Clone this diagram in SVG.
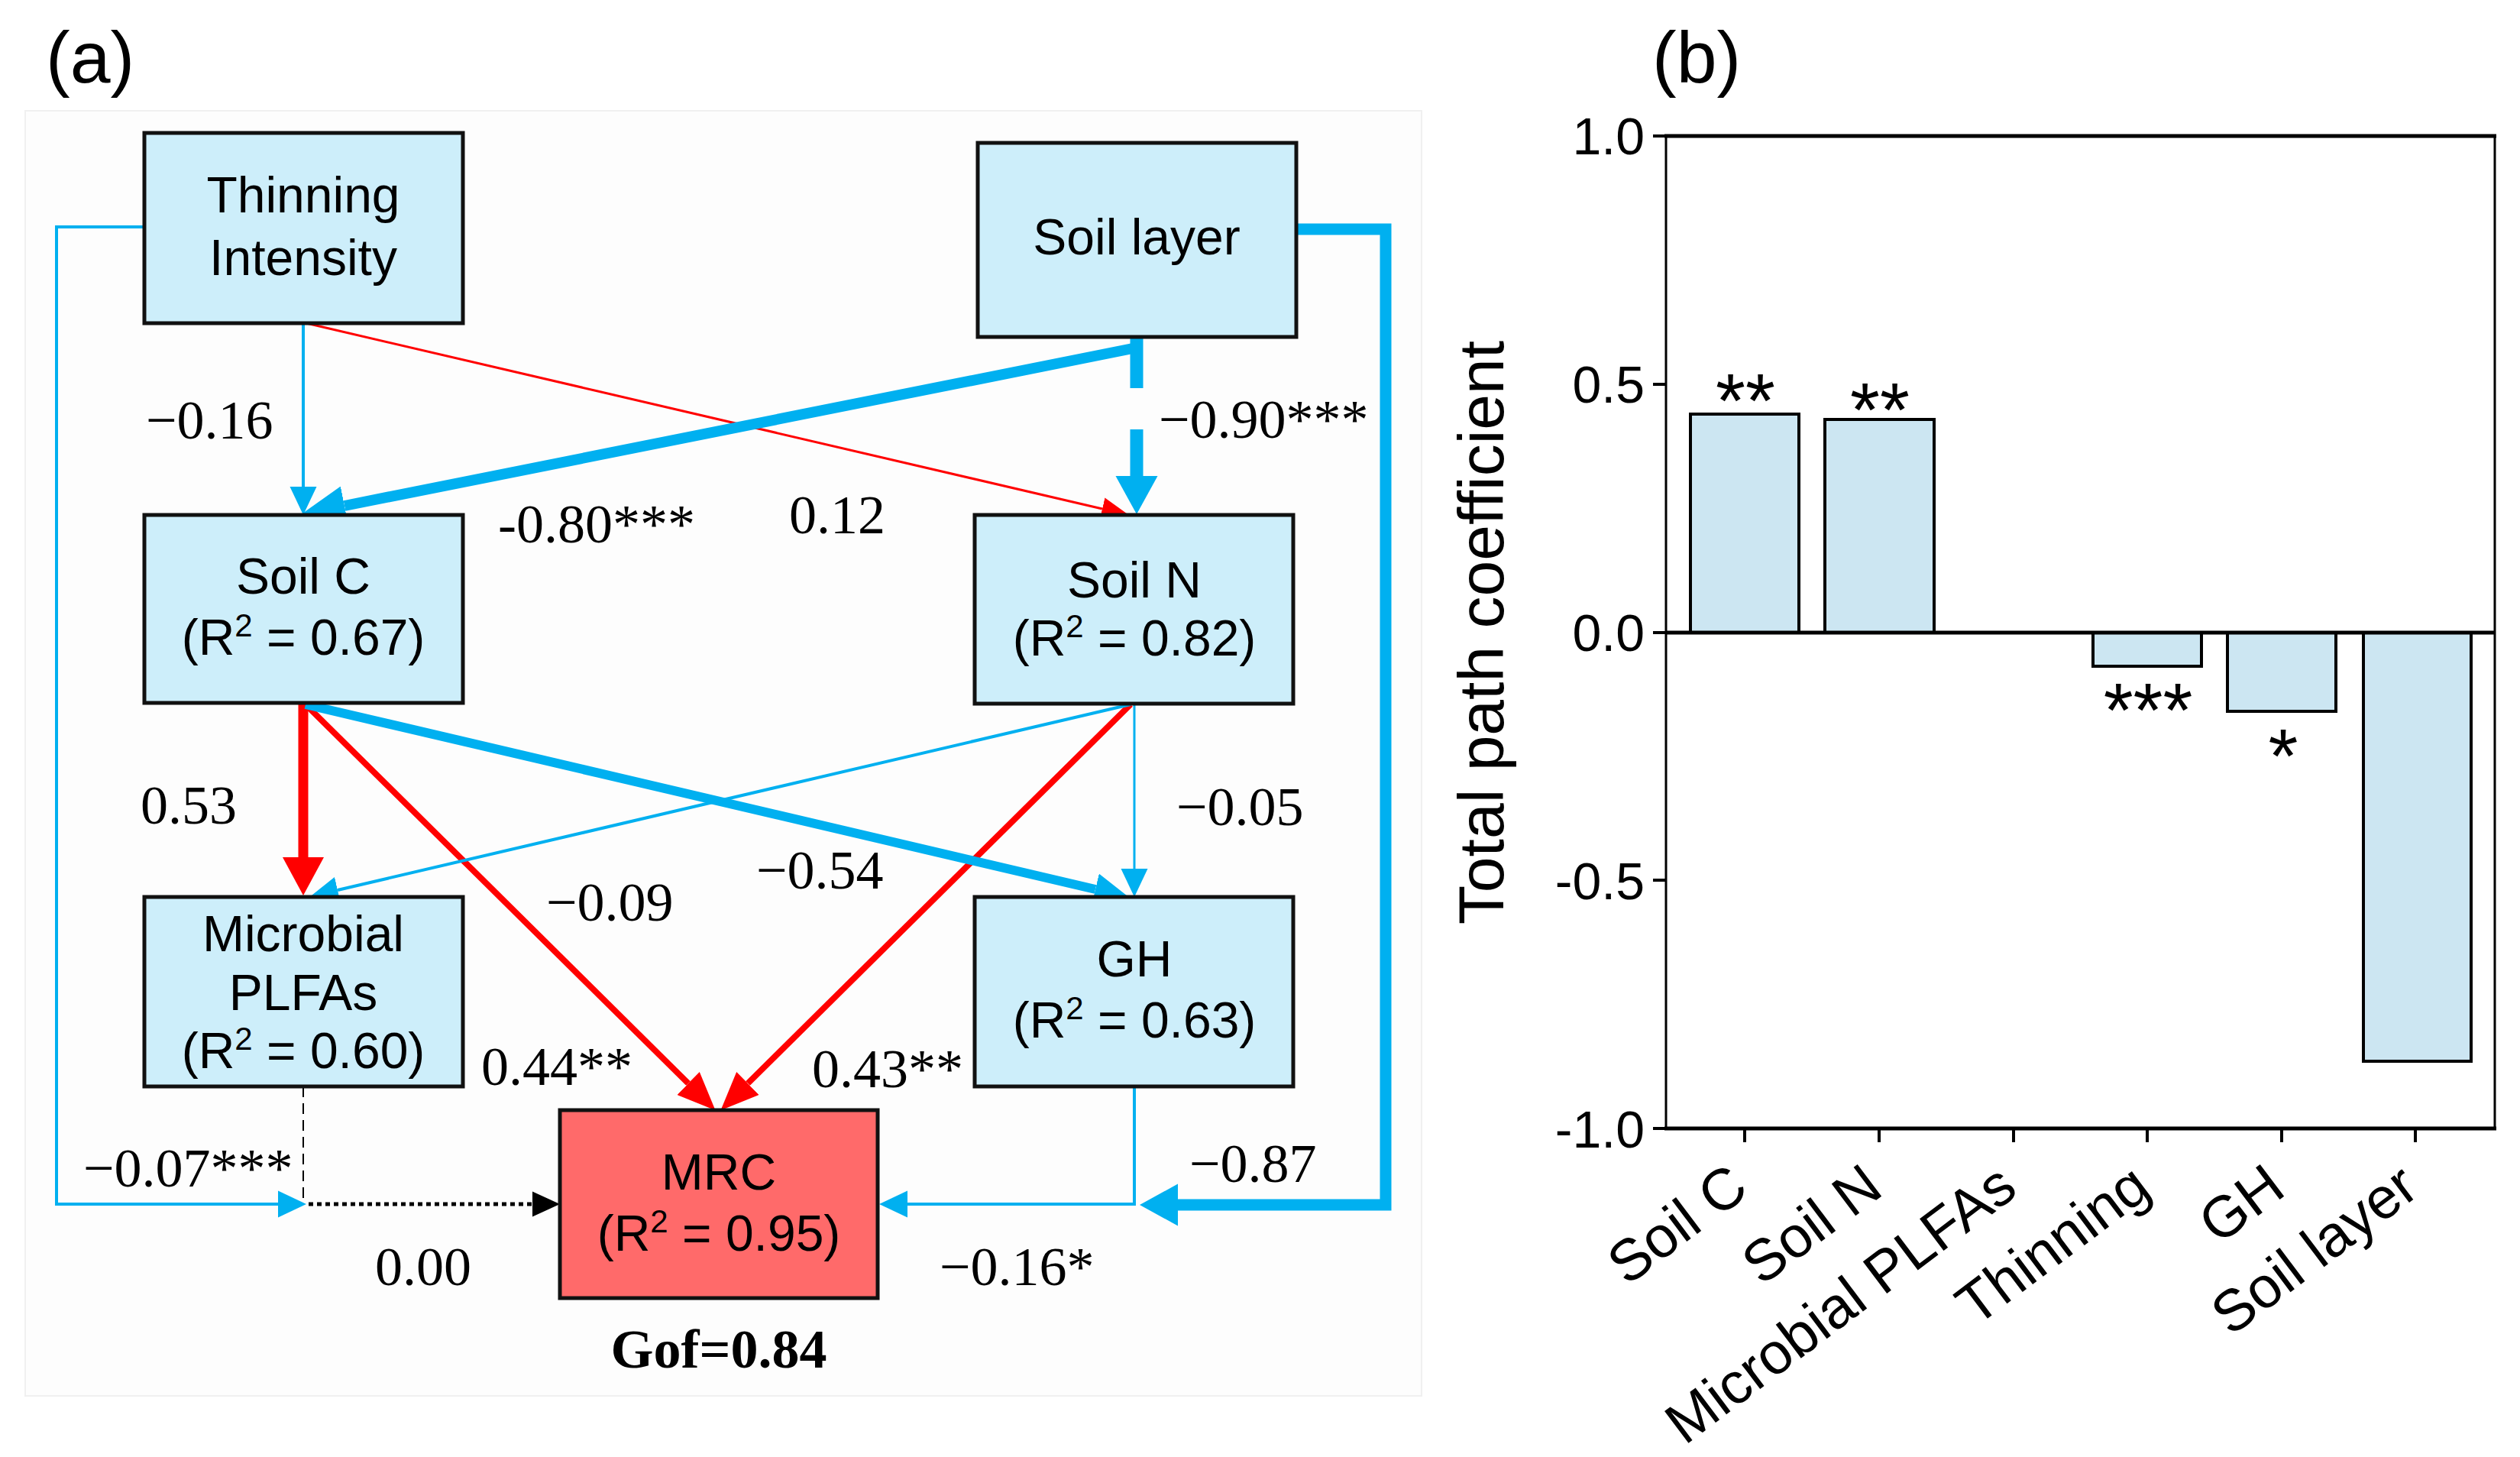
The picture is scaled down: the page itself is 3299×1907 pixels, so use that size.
<svg xmlns="http://www.w3.org/2000/svg" width="3299" height="1907" viewBox="0 0 3299 1907">
<style>
.box{fill:#cdeefa;stroke:#111;stroke-width:5}
.mrc{fill:#ff6a6a;stroke:#111;stroke-width:5}
.bt{font-family:"Liberation Sans",Arial,sans-serif;font-size:66px;fill:#000;text-anchor:middle}
.lb{font-family:"Liberation Serif","Times New Roman",serif;font-size:72px;fill:#000}
.pl{font-family:"Liberation Sans",Arial,sans-serif;font-size:95px;fill:#000}
.tk{font-family:"Liberation Sans",Arial,sans-serif;font-size:68px;fill:#000;text-anchor:end}
.xl{font-family:"Liberation Sans",Arial,sans-serif;font-size:76px;fill:#000;text-anchor:end}
.st{font-family:"Liberation Sans",Arial,sans-serif;font-size:100px;fill:#000;text-anchor:middle}
.b{fill:none;stroke:#00b0f0}
.r{fill:none;stroke:#ff0000}
.bar{fill:#cce6f2;stroke:#000;stroke-width:4}
.ax{stroke:#000;fill:none}
</style>
<defs>
<marker id="mBlueS" markerUnits="userSpaceOnUse" orient="auto" viewBox="0 -18 37 36" refX="0" refY="0" markerWidth="37" markerHeight="36"><path d="M0,-17.5 L37,0 L0,17.5 z" fill="#00b0f0"/></marker>
<marker id="mBlueM" markerUnits="userSpaceOnUse" orient="auto" viewBox="0 -21 45 42" refX="0" refY="0" markerWidth="45" markerHeight="42"><path d="M0,-21 L45,0 L0,21 z" fill="#00b0f0"/></marker>
<marker id="mBlueL" markerUnits="userSpaceOnUse" orient="auto" viewBox="0 -26 58 52" refX="0" refY="0" markerWidth="58" markerHeight="52"><path d="M0,-26 L58,0 L0,26 z" fill="#00b0f0"/></marker>
<marker id="mBlueV" markerUnits="userSpaceOnUse" orient="auto" viewBox="0 -28 50 56" refX="0" refY="0" markerWidth="50" markerHeight="56"><path d="M0,-27.5 L50,0 L0,27.5 z" fill="#00b0f0"/></marker>
<marker id="mRedS" markerUnits="userSpaceOnUse" orient="auto" viewBox="0 -15 36 30" refX="0" refY="0" markerWidth="36" markerHeight="30"><path d="M0,-15 L36,0 L0,15 z" fill="#ff0000"/></marker>
<marker id="mRedM" markerUnits="userSpaceOnUse" orient="auto" viewBox="0 -21 50 42" refX="0" refY="0" markerWidth="50" markerHeight="42"><path d="M0,-21 L50,0 L0,21 z" fill="#ff0000"/></marker>
<marker id="mRedL" markerUnits="userSpaceOnUse" orient="auto" viewBox="0 -27 50 54" refX="0" refY="0" markerWidth="50" markerHeight="54"><path d="M0,-27 L50,0 L0,27 z" fill="#ff0000"/></marker>
<marker id="mBlack" markerUnits="userSpaceOnUse" orient="auto" viewBox="0 -17 36 34" refX="0" refY="0" markerWidth="36" markerHeight="34"><path d="M0,-16.5 L36,0 L0,16.5 z" fill="#000"/></marker>
</defs>
<rect x="0" y="0" width="3299" height="1907" fill="#fff"/>
<!-- panel a -->
<text class="pl" x="60" y="108">(a)</text>
<rect x="33" y="145" width="1828" height="1682" fill="#fdfdfd" stroke="#f0f0f0" stroke-width="2"/>
<g id="connectors">
<path class="b" stroke-width="4" d="M397,423 V637" marker-end="url(#mBlueS)"/>
<path class="r" stroke-width="3" d="M401,423 L1443,666" marker-end="url(#mRedS)"/>
<path class="b" stroke-width="14" d="M1488,455 L451,662" marker-end="url(#mBlueL)"/>
<path class="b" stroke-width="17" d="M1488,441 V508"/>
<path class="b" stroke-width="17" d="M1488,562 V623" marker-end="url(#mBlueV)"/>
<path class="r" stroke-width="13" d="M397,920 V1122" marker-end="url(#mRedL)"/>
<path class="r" stroke-width="8" d="M400,922 L901,1418" marker-end="url(#mRedM)"/>
<path class="r" stroke-width="8" d="M1480,922 L979,1418" marker-end="url(#mRedM)"/>
<path class="b" stroke-width="12" d="M400,922 L1434,1164" marker-end="url(#mBlueM)"/>
<path class="b" stroke-width="4" d="M1480,922 L442,1165" marker-end="url(#mBlueS)"/>
<path class="b" stroke-width="3" d="M1485,921 V1137" marker-end="url(#mBlueS)"/>
<path class="b" stroke-width="4" d="M189,297 H74 V1576 H364" marker-end="url(#mBlueS)"/>
<path fill="none" stroke="#000" stroke-width="2" stroke-dasharray="14 8" d="M397,1422 V1576"/>
<path fill="none" stroke="#000" stroke-width="5" stroke-dasharray="6 5" d="M404,1576 H697" marker-end="url(#mBlack)"/>
<path class="b" stroke-width="4" d="M1485,1422 V1576 H1188" marker-end="url(#mBlueS)"/>
<path class="b" stroke-width="15" d="M1697,300 H1814 V1577 H1542" marker-end="url(#mBlueV)"/>
</g>
<g id="labels">
<text class="lb" x="191" y="574">−0.16</text>
<text class="lb" x="652" y="710">-0.80***</text>
<text class="lb" x="1033" y="698">0.12</text>
<text class="lb" x="1517" y="573">−0.90***</text>
<text class="lb" x="184" y="1078">0.53</text>
<text class="lb" x="715" y="1205">−0.09</text>
<text class="lb" x="990" y="1163">−0.54</text>
<text class="lb" x="1540" y="1080">−0.05</text>
<text class="lb" x="630" y="1420">0.44**</text>
<text class="lb" x="1063" y="1423">0.43**</text>
<text class="lb" x="109" y="1553">−0.07***</text>
<text class="lb" x="1557" y="1547">−0.87</text>
<text class="lb" x="491" y="1682">0.00</text>
<text class="lb" x="1230" y="1682">−0.16*</text>
<text class="lb" x="941" y="1790" font-weight="bold" text-anchor="middle">Gof=0.84</text>
</g>
<g id="thinning">
<rect class="box" x="189" y="174" width="417" height="249"/>
<text class="bt" x="397" y="278">Thinning</text>
<text class="bt" x="397" y="360">Intensity</text>
</g>
<g id="soil-layer">
<rect class="box" x="1280" y="187" width="417" height="254"/>
<text class="bt" x="1488" y="333">Soil layer</text>
</g>
<g id="soil-c">
<rect class="box" x="189" y="674" width="417" height="246"/>
<text class="bt" x="397" y="777">Soil C</text>
<text class="bt" x="397" y="857">(R<tspan font-size="42" dy="-24">2</tspan><tspan dy="24"> = 0.67)</tspan></text>
</g>
<g id="soil-n">
<rect class="box" x="1276" y="674" width="417" height="247"/>
<text class="bt" x="1485" y="782">Soil N</text>
<text class="bt" x="1485" y="858">(R<tspan font-size="42" dy="-24">2</tspan><tspan dy="24"> = 0.82)</tspan></text>
</g>
<g id="microbial">
<rect class="box" x="189" y="1174" width="417" height="248"/>
<text class="bt" x="397" y="1245">Microbial</text>
<text class="bt" x="397" y="1322">PLFAs</text>
<text class="bt" x="397" y="1398">(R<tspan font-size="42" dy="-24">2</tspan><tspan dy="24"> = 0.60)</tspan></text>
</g>
<g id="gh">
<rect class="box" x="1276" y="1174" width="417" height="248"/>
<text class="bt" x="1485" y="1278">GH</text>
<text class="bt" x="1485" y="1358">(R<tspan font-size="42" dy="-24">2</tspan><tspan dy="24"> = 0.63)</tspan></text>
</g>
<g id="mrc">
<rect class="mrc" x="733" y="1453" width="416" height="246"/>
<text class="bt" x="941" y="1557">MRC</text>
<text class="bt" x="941" y="1637">(R<tspan font-size="42" dy="-24">2</tspan><tspan dy="24"> = 0.95)</tspan></text>
</g>
<!-- panel b -->
<g id="chart">
<text class="pl" x="2163" y="108">(b)</text>
<rect class="bar" x="2213" y="542" width="142" height="286"/>
<rect class="bar" x="2389" y="549" width="143" height="279"/>
<rect class="bar" x="2740" y="828" width="142" height="44"/>
<rect class="bar" x="2916" y="828" width="142" height="103" fill="#d7edf7"/>
<rect class="bar" x="3094" y="828" width="141" height="561"/>
<path class="ax" stroke-width="3" d="M2181,178 V1477 M3266,178 V1477"/>
<path class="ax" stroke-width="5" d="M2179,178 H3268 M2179,1477 H3268 M2181,828 H3266"/>
<path class="ax" stroke-width="4" d="M2164,178 H2181 M2164,503 H2181 M2164,828 H2181 M2164,1152 H2181 M2164,1477 H2181"/>
<path class="ax" stroke-width="4" d="M2284,1477 V1495 M2460,1477 V1495 M2636,1477 V1495 M2811,1477 V1495 M2987,1477 V1495 M3162,1477 V1495"/>
<text class="tk" x="2153" y="202">1.0</text>
<text class="tk" x="2153" y="527">0.5</text>
<text class="tk" x="2153" y="852">0.0</text>
<text class="tk" x="2153" y="1177">-0.5</text>
<text class="tk" x="2153" y="1502">-1.0</text>
<text font-family="Liberation Sans, Arial, sans-serif" font-size="84" text-anchor="middle" transform="translate(1968,828) rotate(-90)">Total path coefficient</text>
<text class="st" x="2285" y="559">**</text>
<text class="st" x="2461" y="571">**</text>
<text class="st" x="2812" y="964">***</text>
<text class="st" x="2989" y="1024">*</text>
<text class="xl" transform="translate(2292,1562) rotate(-37)">Soil C</text>
<text class="xl" transform="translate(2468,1562) rotate(-37)">Soil N</text>
<text class="xl" transform="translate(2644,1562) rotate(-37)">Microbial PLFAs</text>
<text class="xl" transform="translate(2819,1562) rotate(-37)">Thinning</text>
<text class="xl" transform="translate(2995,1562) rotate(-37)">GH</text>
<text class="xl" transform="translate(3170,1562) rotate(-37)">Soil layer</text>
</g>
</svg>
